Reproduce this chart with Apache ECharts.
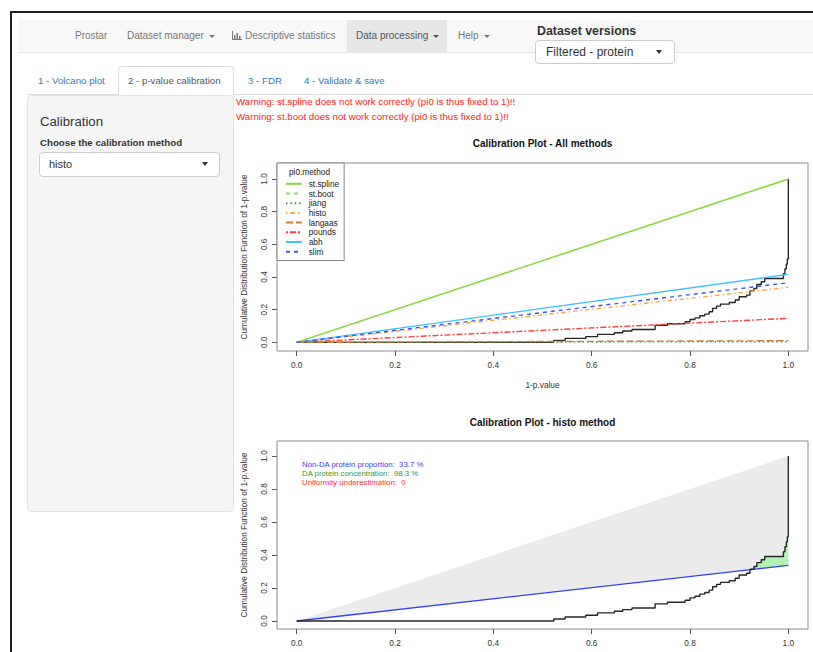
<!DOCTYPE html>
<html>
<head>
<meta charset="utf-8">
<script src="https://cdn.jsdelivr.net/npm/echarts@6/dist/echarts.min.js"></script>
<style>
html,body{margin:0;padding:0;background:#fff;}
body{width:813px;height:652px;overflow:hidden;position:relative;font-family:"Liberation Sans",Arial,Helvetica,sans-serif;}
.abs{position:absolute;white-space:nowrap;box-sizing:border-box;}
.nav{top:20px;height:32px;line-height:32px;font-size:10px;color:#777;}
.caret{display:inline-block;width:0;height:0;border-left:3px solid transparent;border-right:3px solid transparent;border-top:3px solid #777;vertical-align:middle;margin-left:5px;}
.tab{top:66px;height:29px;line-height:29px;font-size:9.7px;color:#337ab7;}
.warn{left:236px;font-size:9.7px;color:#ff2020;height:14px;line-height:14px;}
#chart{position:absolute;left:0;top:0;width:813px;height:652px;z-index:5;}
</style>
</head>
<body>
<!-- window frame -->
<div class="abs" style="left:10px;top:11px;width:803px;height:2px;background:#1e1e1e"></div>
<div class="abs" style="left:10px;top:11px;width:2px;height:641px;background:#1e1e1e"></div>

<!-- navbar -->
<div class="abs" style="left:18px;top:20px;width:795px;height:33px;background:#f8f8f8;border-bottom:1px solid #e7e7e7"></div>
<div class="abs" style="left:347px;top:20px;width:100px;height:32px;background:#e7e7e7"></div>
<div class="abs nav" style="left:75px">Prostar</div>
<div class="abs nav" style="left:127px">Dataset manager<span class="caret"></span></div>
<div class="abs nav" style="left:232px"><svg width="10" height="9" style="vertical-align:-1px;margin-right:3px"><path d="M0.5 0 V8.5 H10" stroke="#777" fill="none"/><rect x="2" y="4" width="1.5" height="4" fill="#777"/><rect x="4.5" y="2" width="1.5" height="6" fill="#777"/><rect x="7" y="5" width="1.5" height="3" fill="#777"/></svg>Descriptive statistics</div>
<div class="abs nav" style="left:356px;color:#555">Data processing<span class="caret" style="border-top-color:#555"></span></div>
<div class="abs nav" style="left:458px">Help<span class="caret"></span></div>
<div class="abs" style="left:537px;top:24px;font-size:12.4px;font-weight:bold;color:#333;line-height:14px">Dataset versions</div>
<div class="abs" style="left:535px;top:40px;width:140px;height:24px;background:#fff;border:1px solid #ccc;border-radius:4px;font-size:12px;line-height:22px;padding-left:10px;color:#333">Filtered - protein</div>
<div class="abs" style="left:656px;top:50px;width:0;height:0;border-left:3.5px solid transparent;border-right:3.5px solid transparent;border-top:4px solid #333"></div>

<!-- tabs -->
<div class="abs" style="left:27px;top:94px;width:786px;height:1px;background:#ddd"></div>
<div class="abs" style="left:118px;top:66px;width:116px;height:29px;background:#fff;border:1px solid #ddd;border-bottom:none;border-radius:4px 4px 0 0"></div>
<div class="abs tab" style="left:38px">1 - Volcano plot</div>
<div class="abs tab" style="left:128px;color:#555">2 - p-value calibration</div>
<div class="abs tab" style="left:248px">3 - FDR</div>
<div class="abs tab" style="left:304px">4 - Validate &amp; save</div>

<!-- left panel -->
<div class="abs" style="left:27px;top:95px;width:207px;height:417px;background:#f5f5f5;border:1px solid #e3e3e3;border-radius:4px"></div>
<div class="abs" style="left:40px;top:114px;font-size:13.2px;line-height:16px;color:#333;font-weight:500">Calibration</div>
<div class="abs" style="left:40px;top:137px;font-size:9.7px;line-height:12px;color:#333;font-weight:bold">Choose the calibration method</div>
<div class="abs" style="left:39px;top:152px;width:181px;height:25px;background:#fff;border:1px solid #ccc;border-radius:4px;font-size:11px;line-height:23px;padding-left:9px;color:#333">histo</div>
<div class="abs" style="left:202px;top:162px;width:0;height:0;border-left:3.5px solid transparent;border-right:3.5px solid transparent;border-top:4px solid #333"></div>

<!-- warnings -->
<div class="abs warn" style="top:95px">Warning: st.spline does not work correctly (pi0 is thus fixed to 1)!!</div>
<div class="abs warn" style="top:110px">Warning: st.boot does not work correctly (pi0 is thus fixed to 1)!!</div>

<div id="chart"></div>
<script>
// ---------------- data ----------------
const xTicks = [0, 0.2, 0.4, 0.6, 0.8, 1.0];
const yTicks = [0, 0.2, 0.4, 0.6, 0.8, 1.0];
const methodNames = ['st.spline', 'st.boot', 'jiang', 'histo', 'langaas', 'pounds', 'abh', 'slim'];
const methodPi0   = [1.0, 1.0, 0.004, 0.337, 0.010, 0.147, 0.416, 0.365];
// empirical CDF of 1-p.value (step points)
const ecdfX = [0, 0.523, 0.546, 0.588, 0.612, 0.646, 0.663, 0.682, 0.729, 0.754, 0.790, 0.800, 0.810, 0.820, 0.830, 0.839, 0.846, 0.854, 0.862, 0.880, 0.892, 0.900, 0.915, 0.922, 0.930, 0.936, 0.945, 0.952, 0.990, 0.993, 0.996, 0.998, 1.000];
const ecdfY = [0, 0.012, 0.024, 0.035, 0.049, 0.059, 0.069, 0.079, 0.104, 0.114, 0.126, 0.140, 0.150, 0.163, 0.173, 0.187, 0.208, 0.222, 0.234, 0.244, 0.259, 0.279, 0.289, 0.314, 0.330, 0.354, 0.371, 0.391, 0.420, 0.450, 0.480, 0.510, 1.000];
const uniformEnd = [1, 1];
const histoPi0 = 0.337;
const daConcentration = 98.3;
const uniformityUnder = 0;
const title1 = 'Calibration Plot - All methods';
const title2 = 'Calibration Plot - histo method';
const xName = '1-p.value';
const yName = 'Cumulative Distribution Function of 1-p.value';

// ---------------- styles ----------------
const F = '"Liberation Sans", Arial, Helvetica, sans-serif';
const methodColors = ['#7fd62c', '#9ad95e', '#3f8f3f', '#ffa347', '#c97d33', '#ff3d3d', '#3cc2ff', '#3556ff'];
const methodDash = ['solid', [4, 4], [1.4, 3], [1.4, 3, 4.5, 3], [7, 3], [2, 2, 6, 2], 'solid', [4, 4]];
const FS = 8.3;
const AFS = 7.8;

const chart = echarts.init(document.getElementById('chart'), null, {renderer: 'svg'});
const ecdfData = ecdfX.map((x, i) => [x, ecdfY[i]]);

function greenPolygon() {
  let k = -1;
  for (let i = 0; i < ecdfX.length; i++) {
    if (ecdfY[i] > histoPi0 * ecdfX[i]) { k = i; break; }
  }
  const pts = [[ecdfX[k], histoPi0 * ecdfX[k]], [ecdfX[k], ecdfY[k]]];
  for (let i = k + 1; i < ecdfX.length; i++) {
    pts.push([ecdfX[i], ecdfY[i - 1]]);
    if (i < ecdfX.length - 1) pts.push([ecdfX[i], ecdfY[i]]);
  }
  pts.push([1, histoPi0]);
  return pts;
}

function xAx(gi, name) {
  return {
    type: 'value', gridIndex: gi, min: -0.04, max: 1.04,
    name: name, nameLocation: 'middle', nameGap: 30,
    nameTextStyle: {fontSize: FS, color: '#333', fontFamily: F},
    axisLine: {show: false, onZero: false}, splitLine: {show: false},
    axisTick: {show: true, inside: false, length: 5, customValues: xTicks, lineStyle: {color: '#555'}},
    axisLabel: {customValues: xTicks, formatter: v => v.toFixed(1), fontSize: FS, color: '#333', margin: 9.5, fontFamily: F}
  };
}
function yAx(gi, mn, mx) {
  return {
    type: 'value', gridIndex: gi, min: mn, max: mx,
    name: yName, nameLocation: 'middle', nameGap: 29.5, nameRotate: 90,
    nameTextStyle: {fontSize: FS, color: '#333', fontFamily: F},
    axisLine: {show: false, onZero: false}, splitLine: {show: false},
    axisTick: {show: true, inside: false, length: 5, customValues: yTicks, lineStyle: {color: '#555'}},
    axisLabel: {customValues: yTicks, rotate: 90, formatter: v => v.toFixed(1), fontSize: FS, color: '#333', margin: 9.5, fontFamily: F}
  };
}

const series = [
  {type: 'line', name: 'ecdf', xAxisIndex: 0, yAxisIndex: 0, data: ecdfData, step: 'end', symbol: 'none',
   lineStyle: {color: '#262626', width: 1.4}, silent: true}
];
methodNames.forEach((n, i) => {
  series.push({type: 'line', name: n, xAxisIndex: 0, yAxisIndex: 0, data: [[0, 0], [1, methodPi0[i]]], symbol: 'none',
    lineStyle: {color: methodColors[i], width: 1.4, type: methodDash[i]}, itemStyle: {color: methodColors[i]}});
});
series.push(
  {type: 'custom', name: 'gray', xAxisIndex: 1, yAxisIndex: 1, data: [[0, 0]], silent: true, z: 1,
   renderItem: (p, api) => ({type: 'polygon', shape: {points: [[0, 0], uniformEnd, [1, histoPi0]].map(q => api.coord(q))}, style: {fill: '#ebebeb'}})},
  {type: 'custom', name: 'green', xAxisIndex: 1, yAxisIndex: 1, data: [[0, 0]], silent: true, z: 2,
   renderItem: (p, api) => ({type: 'polygon', shape: {points: greenPolygon().map(q => api.coord(q))}, style: {fill: '#b4f2b4'}})},
  {type: 'line', name: 'pi0line', xAxisIndex: 1, yAxisIndex: 1, data: [[0, 0], [1, histoPi0]], symbol: 'none', z: 3,
   lineStyle: {color: '#2f3fff', width: 1.4}, silent: true},
  {type: 'line', name: 'ecdf2', xAxisIndex: 1, yAxisIndex: 1, data: ecdfData, step: 'end', symbol: 'none', z: 4,
   lineStyle: {color: '#262626', width: 1.4}, silent: true}
);

const annot = [
  '{a|Non-DA protein proportion:  ' + (histoPi0 * 100).toFixed(1) + ' %}',
  '{b|DA protein concentration:  ' + daConcentration.toFixed(1) + ' %}',
  '{c|Uniformity underestimation:  ' + uniformityUnder + '}'
].join('\n');

const option = {
  animation: false,
  backgroundColor: 'transparent',
  title: [
    {text: title1, left: 542.5, top: 138, textAlign: 'center', padding: 0, textStyle: {fontSize: 10, fontWeight: 'bold', color: '#111', fontFamily: F}},
    {text: title2, left: 542.5, top: 417, textAlign: 'center', padding: 0, textStyle: {fontSize: 10, fontWeight: 'bold', color: '#111', fontFamily: F}}
  ],
  grid: [
    {left: 277, top: 163, width: 531, height: 188, show: true, borderColor: '#8c8c8c', borderWidth: 1},
    {left: 277, top: 441, width: 531, height: 188, show: true, borderColor: '#8c8c8c', borderWidth: 1}
  ],
  xAxis: [xAx(0, xName), xAx(1, '')],
  yAxis: [yAx(0, -0.053, 1.098), yAx(1, -0.0485, 1.091)],
  legend: {
    data: methodNames, orient: 'vertical', left: 277, top: 163,
    padding: [16.8, 5, 4.8, 8], itemWidth: 15.7, itemHeight: 8, itemGap: 1.7,
    backgroundColor: '#fff', borderColor: '#888', borderWidth: 1, borderRadius: 0,
    selectedMode: false,
    itemStyle: {opacity: 0},
    textStyle: {fontSize: FS, color: '#222', fontFamily: F, padding: [0, 0, 0, 2]}
  },
  graphic: [
    {type: 'text', x: 309.5, y: 171.7, z: 100, style: {text: 'pi0.method', font: FS + 'px ' + F, fill: '#222', textAlign: 'center', textVerticalAlign: 'middle'}},
    {type: 'text', x: 302, y: 459.8, z: 100, style: {text: annot, fontFamily: F, fontSize: AFS, lineHeight: 9,
      rich: {a: {fill: '#3b3bff', fontSize: AFS, lineHeight: 9, fontFamily: F},
             b: {fill: '#2f9a2f', fontSize: AFS, lineHeight: 9, fontFamily: F},
             c: {fill: '#ff3030', fontSize: AFS, lineHeight: 9, fontFamily: F}}}}
  ],
  series: series
};
chart.setOption(option);
</script>
</body>
</html>
